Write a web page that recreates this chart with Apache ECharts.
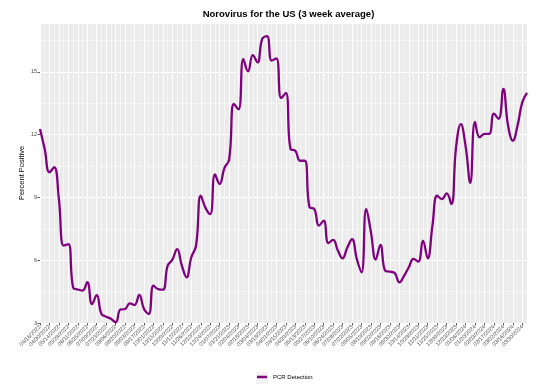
<!DOCTYPE html>
<html>
<head>
<meta charset="utf-8">
<script src="https://cdn.jsdelivr.net/npm/echarts@6/dist/echarts.min.js"></script>
<style>html,body{margin:0;padding:0;background:#fff}#c{width:560px;height:391px}</style>
</head>
<body>
<div id="c"></div>
<script>
const dates = [
'04/16/2022','04/23/2022','04/30/2022','05/07/2022','05/14/2022','05/21/2022','05/28/2022',
'06/04/2022','06/11/2022','06/18/2022','06/25/2022','07/02/2022','07/09/2022','07/16/2022',
'07/23/2022','07/30/2022','08/06/2022','08/13/2022','08/20/2022','08/27/2022','09/03/2022',
'09/10/2022','09/17/2022','09/24/2022','10/01/2022','10/08/2022','10/15/2022','10/22/2022',
'10/29/2022','11/05/2022','11/12/2022','11/19/2022','11/26/2022','12/03/2022','12/10/2022',
'12/17/2022','12/24/2022','12/31/2022','01/07/2023','01/14/2023','01/21/2023','01/28/2023',
'02/04/2023','02/11/2023','02/18/2023','02/25/2023','03/04/2023','03/11/2023','03/18/2023',
'03/25/2023','04/01/2023','04/08/2023','04/15/2023','04/22/2023','04/29/2023','05/06/2023',
'05/13/2023','05/20/2023','05/27/2023','06/03/2023','06/10/2023','06/17/2023','06/24/2023',
'07/01/2023','07/08/2023','07/15/2023','07/22/2023','07/29/2023','08/05/2023','08/12/2023',
'08/19/2023','08/26/2023','09/02/2023','09/09/2023','09/16/2023','09/23/2023','09/30/2023',
'10/07/2023','10/14/2023','10/21/2023','10/28/2023','11/04/2023','11/11/2023','11/18/2023',
'11/25/2023','12/02/2023','12/09/2023','12/16/2023','12/23/2023','12/30/2023','01/06/2024',
'01/13/2024','01/20/2024','01/27/2024','02/03/2024','02/10/2024','02/17/2024','02/24/2024',
'03/02/2024','03/09/2024','03/16/2024','03/23/2024','03/30/2024','04/06/2024'
];
const pcrDetection = [
12.27,11.3,10.2,10.44,8.9,6.7,6.77,4.7,4.6,4.55,4.95,3.9,4.33,3.43,3.3,3.2,3.03,3.64,3.67,3.94,
3.86,4.34,3.67,3.43,4.78,4.62,4.59,5.74,6.03,6.53,5.74,5.18,6.14,6.69,9.08,8.5,8.2,10.1,9.64,10.4,
10.8,13.46,13.2,15.6,15.02,15.8,15.45,16.57,16.7,15.53,15.64,13.75,13.99,11.3,11.23,10.75,10.75,8.53,8.45,7.65,
7.89,6.82,6.97,6.46,6.09,6.61,7.0,6.06,5.42,8.45,7.33,6.03,6.73,5.5,5.45,5.39,4.94,5.25,5.66,6.06,
5.93,6.93,6.09,7.65,9.08,8.92,9.19,8.68,11.4,12.5,11.47,9.69,12.6,11.87,12.03,12.03,13.0,12.75,14.18,12.43,
11.71,12.43,13.54,13.99
];
const yTicks = [3, 6, 9, 12, 15];
const seriesName = 'PCR Detection';
const titleText = 'Norovirus for the US (3 week average)';
const yName = 'Percent Positive';

const FONT = '"Liberation Sans", Arial, sans-serif';
const chart = echarts.init(document.getElementById('c'), null, {renderer: 'canvas'});
const yMin = yTicks[0], yMax = 17.33;
chart.setOption({
  animation: false,
  backgroundColor: '#ffffff',
  title: {
    text: titleText, left: 283.5, textAlign: 'center', top: 4,
    textStyle: {fontFamily: FONT, fontSize: 9.5, fontWeight: 'bold', color: '#000'}
  },
  legend: {
    data: [seriesName], left: 257, top: 374, padding: 0, icon: 'rect', itemWidth: 10, itemHeight: 2.5, itemGap: 5,
    textStyle: {fontFamily: FONT, fontSize: 6, color: '#000', padding: [0,0,0,1]}
  },
  graphic: [{type: 'rect', left: 256, top: 372, shape: {width: 12, height: 12}, style: {fill: '#F2F2F2'}, z: -1}],
  grid: {left: 40, right: 33, top: 23, bottom: 68, show: true, backgroundColor: '#EBEBEB', borderWidth: 0},
  xAxis: [{
    type: 'category', data: dates, boundaryGap: false,
    axisLine: {show: false},
    axisTick: {show: true, interval: 1, length: 2.5, lineStyle: {color: '#333', width: 0.8}},
    axisLabel: {interval: 1, rotate: 45, fontSize: 5.5, color: '#4D4D4D', fontFamily: FONT, margin: 3},
    splitLine: {show: true, interval: 1, lineStyle: {color: '#ffffff', width: 1}}
  }, {
    type: 'category', data: dates, boundaryGap: false, position: 'bottom',
    axisLine: {show: false}, axisTick: {show: false}, axisLabel: {show: false},
    splitLine: {show: true, interval: 0, lineStyle: {color: '#ffffff', width: 0.5}}
  }],
  yAxis: [{
    type: 'value', min: yMin, max: yMax, interval: 3,
    name: yName, nameLocation: 'middle', nameGap: 14, nameRotate: 90, nameMoveOverlap: false,
    nameTextStyle: {fontFamily: FONT, fontSize: 7.5, color: '#000'},
    axisLine: {show: false},
    axisTick: {show: true, length: 2.5, lineStyle: {color: '#333', width: 0.8}},
    axisLabel: {fontSize: 5.5, color: '#4D4D4D', fontFamily: FONT, margin: 3, showMaxLabel: false,
      formatter: v => yTicks.includes(v) ? String(v) : ''},
    splitLine: {show: true, lineStyle: {color: '#ffffff', width: 1}}
  }, {
    type: 'value', min: yMin, max: yMax, interval: 1.5, position: 'left',
    axisLine: {show: false}, axisTick: {show: false}, axisLabel: {show: false},
    splitLine: {show: true, lineStyle: {color: '#ffffff', width: 0.5}}
  }],
  series: [{
    name: seriesName, type: 'line', data: pcrDetection, xAxisIndex: 0, yAxisIndex: 0,
    smooth: 0.45, showSymbol: false, symbol: 'none',
    lineStyle: {color: '#800080', width: 2.3}, itemStyle: {color: '#800080'}, z: 5
  }]
});
</script>
</body>
</html>
